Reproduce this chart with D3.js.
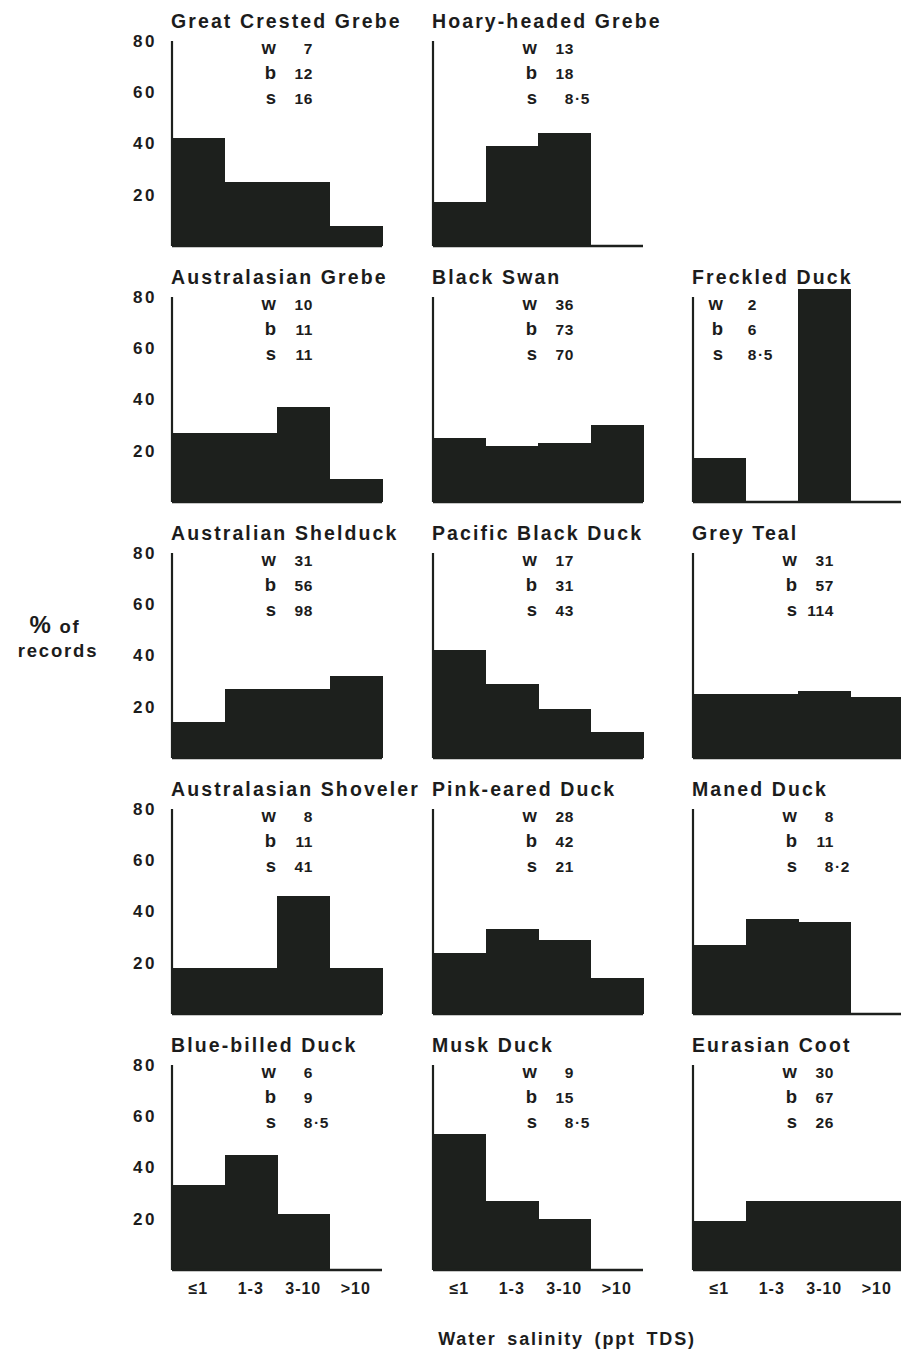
<!DOCTYPE html>
<html>
<head>
<meta charset="utf-8">
<script src="https://cdn.jsdelivr.net/npm/d3@7"></script>
<style>
body { margin: 0; background: #fff; }
svg text { font-family: "Liberation Sans", Arial, sans-serif; font-weight: bold; fill: #1c1c1c; }
</style>
</head>
<body>
<div id="chart"></div>
<script>
// salinity classes (ppt TDS)
var bins = ['≤1', '1-3', '3-10', '>10'];

var species = ['Great Crested Grebe', 'Hoary-headed Grebe',
    'Australasian Grebe', 'Black Swan', 'Freckled Duck',
    'Australian Shelduck', 'Pacific Black Duck', 'Grey Teal',
    'Australasian Shoveler', 'Pink-eared Duck', 'Maned Duck',
    'Blue-billed Duck', 'Musk Duck', 'Eurasian Coot'];

// % of records in each salinity class
var pct = [
    [42, 25, 25, 8],
    [17, 39, 44, 0],
    [27, 27, 37, 9],
    [25, 22, 23, 30],
    [17, 0, 83, 0],
    [14, 27, 27, 32],
    [42, 29, 19, 10],
    [25, 25, 26, 24],
    [18, 18, 46, 18],
    [24, 33, 29, 14],
    [27, 37, 36, 0],
    [33, 45, 22, 0],
    [53, 27, 20, 0],
    [19, 27, 27, 27]
];

// w, b, s figures printed in each panel
var wVals = [7, 13, 10, 36, 2, 31, 17, 31, 8, 28, 8, 6, 9, 30];
var bVals = [12, 18, 11, 73, 6, 56, 31, 57, 11, 42, 11, 9, 15, 67];
var sVals = [16, 8.5, 11, 70, 8.5, 98, 43, 114, 41, 21, 8.2, 8.5, 8.5, 26];

var yTicks = [20, 40, 60, 80];

var svgWidth = 901, svgHeight = 1353;
var svg = d3.select('#chart').append('svg')
    .attr('width', svgWidth)
    .attr('height', svgHeight);

var ink = '#1d201d';
var colX = [172, 433, 693];
var panelW = 210, panelH = 205;
function baseY(row) { return 246 + row * 256; }

var x = d3.scaleBand().domain(bins).range([0, panelW]).padding(0);
var y = d3.scaleLinear().domain([0, 80]).range([panelH, 0]);

function fmt(v) {
    var parts = String(v).split('.');
    return { whole: parts[0], frac: parts.length > 1 ? '·' + parts[1] : '' };
}

species.forEach(function(name, i) {
    var row = i < 2 ? 0 : 1 + Math.floor((i - 2) / 3);
    var col = i < 2 ? i : (i - 2) % 3;
    var lastRow = row === 4;

    var g = svg.append('g')
        .attr('transform', 'translate(' + colX[col] + ',' + (baseY(row) - panelH) + ')');

    // bars
    g.selectAll('rect.bar')
        .data(pct[i])
        .enter().append('rect')
        .attr('class', 'bar')
        .attr('x', function(d, j) { return x(bins[j]); })
        .attr('width', x.bandwidth() + 0.6)
        .attr('y', function(d) { return y(d); })
        .attr('height', function(d) { return y(0) - y(d); })
        .attr('fill', ink)
        .attr('shape-rendering', 'crispEdges');

    // baseline and y axis line
    g.append('line')
        .attr('x1', 0).attr('x2', x.range()[1])
        .attr('y1', y(0)).attr('y2', y(0))
        .attr('stroke', ink).attr('stroke-width', 2.5);
    g.append('line')
        .attr('x1', 0).attr('x2', 0)
        .attr('y1', y(80)).attr('y2', y(0))
        .attr('stroke', ink).attr('stroke-width', 2.2);

    // y tick labels only in first column
    if (col === 0) {
        var ya = g.append('g')
            .call(d3.axisLeft(y).tickValues(yTicks).tickSize(0).tickPadding(15));
        ya.select('.domain').remove();
        ya.selectAll('text')
            .style('font-size', '17px')
            .style('letter-spacing', '2.5px')
            .style('font-family', '"Liberation Sans", Arial, sans-serif')
            .attr('fill', '#1c1c1c');
    }

    // x tick labels only on the bottom row
    if (lastRow) {
        var xa = g.append('g')
            .attr('transform', 'translate(0,' + panelH + ')')
            .call(d3.axisBottom(x).tickSize(0).tickPadding(13));
        xa.select('.domain').remove();
        xa.selectAll('text')
            .style('font-size', '16px')
            .style('letter-spacing', '1px')
            .style('font-family', '"Liberation Sans", Arial, sans-serif')
            .attr('fill', '#1c1c1c');
    }

    // title
    g.append('text')
        .attr('x', -1)
        .attr('y', -13)
        .style('font-size', '19.5px')
        .style('letter-spacing', '2.1px')
        .text(name);

    // w / b / s block; pushed left when a tall bar sits under it
    var crowded = d3.max(pct[i].slice(1, 3)) > 60;
    var letterX = crowded ? 30 : 104;
    var numX = crowded ? 64 : 141;
    var stats = [['w', wVals[i]], ['b', bVals[i]], ['s', sVals[i]]];

    stats.forEach(function(st, k) {
        var ty = 13 + k * 25;
        g.append('text')
            .attr('x', letterX).attr('y', ty)
            .attr('text-anchor', 'end')
            .style('font-size', '18.5px')
            .text(st[0]);
        var n = fmt(st[1]);
        g.append('text')
            .attr('x', numX).attr('y', ty)
            .attr('text-anchor', 'end')
            .style('font-size', '15.5px')
            .style('letter-spacing', '0.6px')
            .text(n.whole);
        if (n.frac) {
            g.append('text')
                .attr('x', numX + 1).attr('y', ty)
                .style('font-size', '15.5px')
                .style('letter-spacing', '0.6px')
                .text(n.frac);
        }
    });
});

// y axis title
var yt = svg.append('text')
    .attr('x', 55).attr('y', 633)
    .attr('text-anchor', 'middle')
    .style('font-size', '18.5px')
    .style('letter-spacing', '1.8px');
yt.append('tspan').style('font-size', '24px').text('%');
yt.append('tspan').text(' of');
svg.append('text')
    .attr('x', 58).attr('y', 657)
    .attr('text-anchor', 'middle')
    .style('font-size', '18.5px')
    .style('letter-spacing', '1.8px')
    .text('records');

// x axis title
svg.append('text')
    .attr('x', 567).attr('y', 1345)
    .attr('text-anchor', 'middle')
    .style('font-size', '18px')
    .style('letter-spacing', '1.8px')
    .style('word-spacing', '4px')
    .text('Water salinity (ppt TDS)');
</script>
</body>
</html>
